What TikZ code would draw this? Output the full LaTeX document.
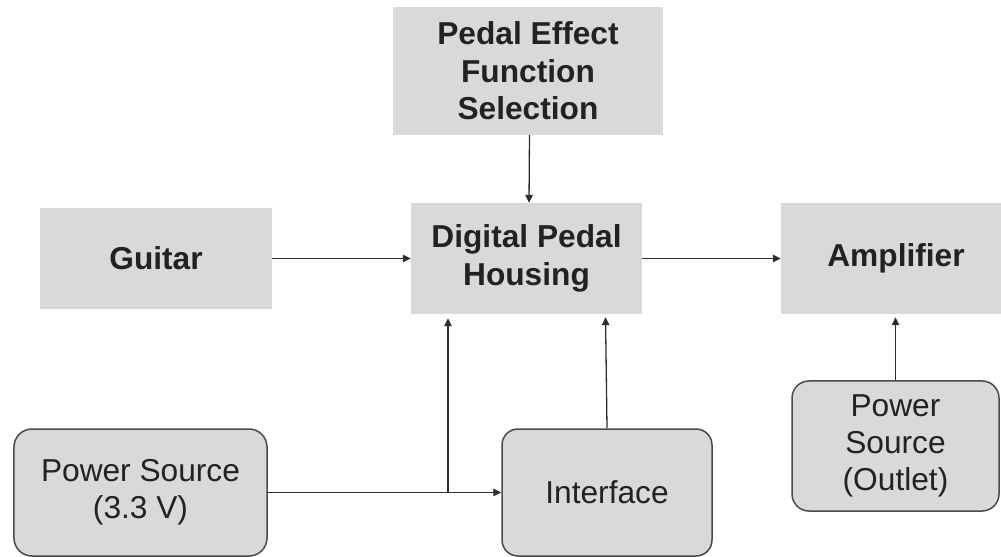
\documentclass[tikz,border=0pt]{standalone}
\usepackage{fontspec}
\setmainfont{Liberation Sans}
\usetikzlibrary{arrows.meta,calc}
\definecolor{boxfill}{HTML}{D9D9D9}
\definecolor{edgegray}{HTML}{4A4A4A}
\definecolor{inkgray}{HTML}{222222}
\definecolor{wiregray}{HTML}{2E2E2E}
\tikzset{
  block/.style={fill=boxfill, draw=none, inner sep=0pt, align=center,
    text=inkgray, font=\fontsize{31.8}{37.5}\selectfont\bfseries},
  softblock/.style={fill=boxfill, draw=edgegray, line width=1.5bp, inner sep=0pt,
    rounded corners=17bp, align=center, text=inkgray,
    font=\fontsize{31.8}{37.5}\selectfont},
  arr/.style={draw=wiregray, line width=1.3bp, -{Triangle[length=8bp,width=7.5bp]}},
  wire/.style={draw=wiregray, line width=1.3bp}
}
\begin{document}
\begin{tikzpicture}[x=1bp,y=-1bp]
  \useasboundingbox (0,0) rectangle (1001,557);
  \clip (0,0) rectangle (1001,557);
  \fill[white] (0,0) rectangle (1001,557);

  % processing chain
  \node[block, minimum width=270bp, minimum height=128bp] (pefs) at (528,71)
    {Pedal Effect\\Function\\Selection};
  \node[block, minimum width=232bp, minimum height=101bp] (guitar) at (156,258.5)
    {Guitar};
  \node[block, minimum width=231bp, minimum height=111bp] (dph) at (526.5,258.5)
    {Digital Pedal\\Housing};
  \node[block, minimum width=230bp, minimum height=111bp] (amp) at (896,258.5)
    {Amplifier};

  % supplies and user interface
  \node[softblock, minimum width=253bp, minimum height=127bp, rounded corners=18bp] (ps33) at (140.5,492.5)
    {Power Source\\(3.3 V)};
  \node[softblock, minimum width=210bp, minimum height=127bp, rounded corners=16bp] (iface) at (607,492.5)
    {Interface};
  \node[softblock, minimum width=207bp, minimum height=130bp] (outlet) at (895.5,446)
    {Power\\Source\\(Outlet)};

  % signal path
  \draw[arr] ([xshift=1.5bp]pefs.south) -- ([xshift=2.5bp]dph.north);
  \draw[arr] (guitar.east) -- (dph.west);
  \draw[arr] (dph.east) -- (amp.west);

  % power and control connections
  \coordinate (split) at (448,492.5);
  \draw[arr] (ps33.east) -- (iface.west);
  \draw[arr, shorten >=4bp] (split) -- (split |- dph.south);
  \draw[arr, shorten >=3bp] (iface.north) -- ([xshift=-1.5bp]iface.north |- dph.south);
  \draw[arr, shorten >=3bp] (outlet.north) -- (outlet.north |- amp.south);
\end{tikzpicture}
\end{document}
